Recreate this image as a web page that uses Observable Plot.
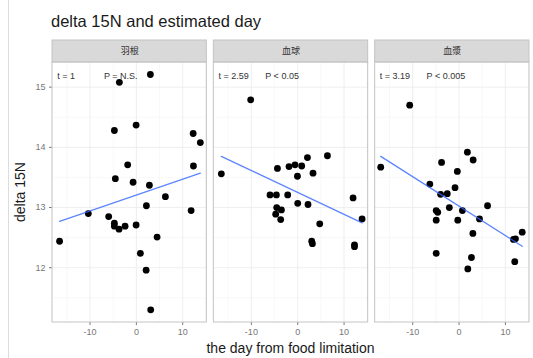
<!DOCTYPE html>
<html>
<head>
<meta charset="utf-8">
<script src="https://cdn.jsdelivr.net/npm/d3@7"></script>
<script src="https://cdn.jsdelivr.net/npm/@observablehq/plot@0.6"></script>
<style>
  body { margin: 0; background: #fff; }
  #wrap { position: relative; width: 533px; height: 358px; overflow: hidden; font-family: "Liberation Sans", Arial, sans-serif; }
  #title { position: absolute; left: 51px; top: 13px; font-size: 16.5px; color: #1a1a1a; line-height: 1; white-space: nowrap; }
  #xlab { position: absolute; left: 52px; width: 477px; top: 341px; text-align: center; font-size: 14px; color: #1a1a1a; line-height: 1; }
  #ylab { position: absolute; left: 20px; top: 192px; font-size: 14px; color: #1a1a1a; line-height: 1; white-space: nowrap; transform: translate(-50%, -50%) rotate(-90deg); }
  #edge { position: absolute; left: 8px; top: 0; width: 1px; height: 358px; background: #dcdcdc; }
  #chart { position: absolute; left: 0; top: 0; }
</style>
</head>
<body>
<div id="wrap">
  <div id="edge"></div>
  <div id="chart"></div>
  <div id="title">delta 15N and estimated day</div>
  <div id="xlab">the day from food limitation</div>
  <div id="ylab">delta 15N</div>
</div>
<script>
// ---- data ----
const panels = ["羽根", "血球", "血漿"];
const tLabels = ["t = 1", "t = 2.59", "t = 3.19"];
const pLabels = ["P = N.S.", "P < 0.05", "P < 0.005"];

const day1 = [-3.67, 3.02, -4.75, -0.06, 12.25, 13.8, -1.88, -4.54, -0.71, 2.81, 12.31, 6.26, 2.16, 11.81, -10.37, -5.98, -4.75, -4.75, -3.74, -2.44, -0.06, -16.57, 4.47, 0.86, 2.1, 3.09];
const n15_1 = [15.08, 15.21, 14.28, 14.37, 14.23, 14.08, 13.71, 13.48, 13.42, 13.37, 13.69, 13.18, 13.03, 12.95, 12.9, 12.85, 12.74, 12.69, 12.64, 12.69, 12.71, 12.44, 12.51, 12.24, 11.96, 11.3];

const day2 = [-10.15, -16.48, -4.38, -1.88, -0.58, 0.86, 2.1, 6.41, -0.06, 3.3, -5.98, -4.6, -2.16, 0, 2.22, 11.94, 13.89, -4.54, -3.52, -4.75, -3.67, 4.75, 3.02, 3.17, 12.25, 12.25];
const n15_2 = [14.79, 13.56, 13.65, 13.68, 13.71, 13.69, 13.83, 13.86, 13.52, 13.57, 13.21, 13.21, 13.21, 13.07, 13.05, 13.16, 12.81, 13.0, 12.96, 12.89, 12.8, 12.73, 12.44, 12.4, 12.38, 12.35];

const day3 = [-16.9, -10.65, -3.77, -0.37, 1.8, 3.04, -6.3, -3.98, -2.54, -0.87, 6.15, -4.93, -4.6, -2.1, 0.72, -4.93, -0.28, 4.41, 2.98, 11.74, 12.17, 13.63, -4.93, 2.67, 1.89, 12.02];
const n15_3 = [13.67, 14.7, 13.75, 13.6, 13.92, 13.79, 13.39, 13.22, 13.23, 13.33, 13.03, 12.95, 12.92, 13.0, 12.95, 12.79, 12.79, 12.81, 12.57, 12.47, 12.48, 12.59, 12.24, 12.17, 11.98, 12.1];

// fitted (lm) line end points
const fitX1 = [-16.57, -16.48, -16.9];
const fitY1 = [12.77, 13.85, 13.85];
const fitX2 = [13.8, 13.89, 13.63];
const fitY2 = [13.57, 12.745, 12.356];

const xTicks = [-10, 0, 10];
const xMinor = [-15, -5, 5, 15];
const yTicks = [12, 13, 14, 15];
const yMinor = [11.5, 12.5, 13.5, 14.5];

// ---- build tables ----
const days = [day1, day2, day3];
const vals = [n15_1, n15_2, n15_3];
const points = [];
panels.forEach((p, i) => days[i].forEach((d, j) => points.push({panel: p, day: d, n15: vals[i][j]})));
const fits = [];
panels.forEach((p, i) => {
  fits.push({panel: p, day: fitX1[i], n15: fitY1[i]});
  fits.push({panel: p, day: fitX2[i], n15: fitY2[i]});
});
const strips = panels.map((p, i) => ({panel: p, t: tLabels[i], P: pLabels[i]}));

const xDom = [-18.1, 15.2];
const yLo = 11.09, yHi = 15.41, yStrip = 15.775;

const grid = [];
panels.forEach(p => {
  xTicks.forEach(v => grid.push({panel: p, v, major: true, axis: "x"}));
  xMinor.filter(v => v > xDom[0] && v < xDom[1]).forEach(v => grid.push({panel: p, v, major: false, axis: "x"}));
  yTicks.forEach(v => grid.push({panel: p, v, major: true, axis: "y"}));
  yMinor.forEach(v => grid.push({panel: p, v, major: false, axis: "y"}));
});

const chart = Plot.plot({
  width: 533,
  height: 358,
  marginTop: 40,
  marginBottom: 36,
  marginLeft: 52,
  marginRight: 4,
  style: {fontFamily: "Liberation Sans, Arial, sans-serif", fontSize: "9px", color: "#777", background: "transparent"},
  fx: {domain: panels, axis: null, paddingInner: 0.0434, paddingOuter: 0, round: false},
  x: {domain: xDom, ticks: xTicks, tickSize: 3, tickPadding: 3, tickFormat: d => String(d), label: null},
  y: {domain: [yLo, yStrip], ticks: yTicks, tickSize: 3, tickPadding: 4, tickFormat: d => String(d), label: null},
  marks: [
    // grid
    Plot.ruleX(grid.filter(g => g.axis === "x" && !g.major), {fx: "panel", x: "v", y1: () => yLo, y2: () => yHi, stroke: "#f3f3f3", strokeWidth: 0.6}),
    Plot.ruleY(grid.filter(g => g.axis === "y" && !g.major), {fx: "panel", y: "v", stroke: "#f3f3f3", strokeWidth: 0.6}),
    Plot.ruleX(grid.filter(g => g.axis === "x" && g.major), {fx: "panel", x: "v", y1: () => yLo, y2: () => yHi, stroke: "#ececec", strokeWidth: 0.9}),
    Plot.ruleY(grid.filter(g => g.axis === "y" && g.major), {fx: "panel", y: "v", stroke: "#ececec", strokeWidth: 0.9}),
    // strip
    Plot.rect(strips, {fx: "panel", x1: () => xDom[0], x2: () => xDom[1], y1: () => yHi, y2: () => yStrip, fill: "#d9d9d9", stroke: "#c4c4c4", strokeWidth: 1}),
    Plot.text(strips, {fx: "panel", x: () => (xDom[0] + xDom[1]) / 2, y: () => (yHi + yStrip) / 2, text: "panel", fill: "#333", fontSize: 9, fontFamily: "Noto Sans CJK JP"}),
    // panel border
    Plot.rect(strips, {fx: "panel", x1: () => xDom[0], x2: () => xDom[1], y1: () => yLo, y2: () => yHi, fill: "none", stroke: "#c4c4c4", strokeWidth: 1}),
    // annotations
    Plot.text(strips, {fx: "panel", x: () => -17.1, y: () => 15.19, text: "t", textAnchor: "start", fill: "#333", fontSize: 9}),
    Plot.text(strips, {fx: "panel", x: () => -7.0, y: () => 15.19, text: "P", textAnchor: "start", fill: "#333", fontSize: 9}),
    // points
    Plot.dot(points, {fx: "panel", x: "day", y: "n15", r: 3.4, fill: "#000", stroke: "none"}),
    // regression lines
    Plot.line(fits, {fx: "panel", x: "day", y: "n15", z: "panel", stroke: "#3366ff", strokeWidth: 1.3, strokeOpacity: 0.8})
  ]
});
document.getElementById("chart").appendChild(chart);
</script>
</body>
</html>
